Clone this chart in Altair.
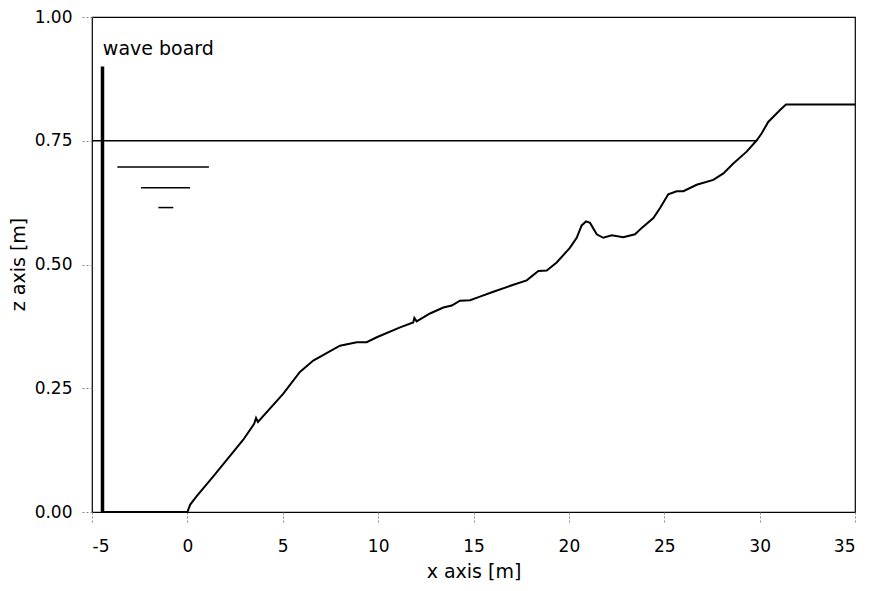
import altair as alt
import pandas as pd

# Bed profile (x in m, z in m)
profile_x = [-4.45, 0.0, 0.15, 0.49, 1.36, 2.93, 3.5, 3.6, 3.7, 5.03, 5.90, 6.60, 8.00, 8.88, 9.40, 9.93,
             11.15, 11.84, 11.90, 12.02, 12.72, 13.42, 13.86, 14.29, 14.82, 15.34, 16.04, 17.09,
             17.79, 18.40, 18.84, 19.36, 20.06, 20.41, 20.67, 20.90, 21.11, 21.46, 21.80, 22.25,
             22.85, 23.47, 23.82, 24.43, 24.78, 25.21, 25.65, 26.00, 26.70, 27.57, 28.10, 28.62,
             29.32, 29.85, 30.11, 30.45, 31.07, 31.38, 35.0]
profile_z = [0.0, 0.0, 0.015, 0.032, 0.072, 0.146, 0.178, 0.19, 0.182, 0.239, 0.283, 0.306, 0.336, 0.343,
             0.343, 0.353, 0.373, 0.383, 0.392, 0.385, 0.401, 0.413, 0.417, 0.427, 0.428, 0.435,
             0.445, 0.459, 0.468, 0.487, 0.488, 0.504, 0.534, 0.554, 0.579, 0.587, 0.584, 0.561,
             0.554, 0.559, 0.555, 0.561, 0.574, 0.594, 0.614, 0.642, 0.648, 0.648, 0.661, 0.671,
             0.684, 0.704, 0.728, 0.751, 0.765, 0.788, 0.812, 0.823, 0.823]

# Still water level
water_x = [-5.0, 29.85]
water_z = [0.75, 0.75]

# Wave board
board_x = -4.45
board_top = 0.90

# Water level symbol (three dashes)
sym_x1 = [-3.67, -2.43, -1.52]
sym_x2 = [1.13, 0.14, -0.74]
sym_z = [0.697, 0.655, 0.615]

x_ticks = [-5, 0, 5, 10, 15, 20, 25, 30, 35]
y_ticks = [0.0, 0.25, 0.5, 0.75, 1.0]

FONT = "DejaVu Sans"

xs = alt.Scale(domain=[-5, 35], nice=False, zero=False)
ys = alt.Scale(domain=[0, 1], nice=False, zero=False)

prof_df = pd.DataFrame({"x": profile_x, "z": profile_z, "i": range(len(profile_x))})
water_df = pd.DataFrame({"x": water_x, "z": water_z, "i": range(len(water_x))})
board_df = pd.DataFrame({"x": [board_x], "z0": [0.0], "z1": [board_top]})
sym_df = pd.DataFrame({"x1": sym_x1, "x2": sym_x2, "z": sym_z})
text_df = pd.DataFrame({"x": [board_x + 0.02], "z": [0.923], "t": ["wave board"]})

x_axis = alt.Axis(values=x_ticks, labelExpr="'' + datum.value", title="x axis [m]", grid=False,
                  domain=False, tickColor="#888", tickDash=[2, 2], tickSize=10, labelFontSize=17,
                  labelFont=FONT, labelColor="black", labelPadding=16, titleFont=FONT,
                  titleFontSize=19, titleFontWeight="normal", titleColor="black", titleY=65,
                  titleBaseline="alphabetic")
y_axis = alt.Axis(values=y_ticks, format=".2f", title="z axis [m]", grid=False, domain=False,
                  tickColor="#888", tickDash=[2, 2], tickSize=11, labelFontSize=17,
                  labelFont=FONT, labelColor="black", labelPadding=9, titleFont=FONT,
                  titleFontSize=19, titleFontWeight="normal", titleColor="black", titleX=-74,
                  titleY=247, titleAngle=-90, titleBaseline="middle", titleAlign="center")

profile = alt.Chart(prof_df).mark_line(color="black", strokeWidth=2).encode(
    x=alt.X("x:Q", scale=xs, axis=x_axis),
    y=alt.Y("z:Q", scale=ys, axis=y_axis),
    order="i:Q",
)

water = alt.Chart(water_df).mark_line(color="black", strokeWidth=1.5).encode(
    x=alt.X("x:Q", scale=xs), y=alt.Y("z:Q", scale=ys), order="i:Q"
)

board = alt.Chart(board_df).mark_rule(color="black", strokeWidth=3.5).encode(
    x=alt.X("x:Q", scale=xs), y=alt.Y("z0:Q", scale=ys), y2="z1:Q"
)

sym = alt.Chart(sym_df).mark_rule(color="black", strokeWidth=1.5).encode(
    x=alt.X("x1:Q", scale=xs), x2="x2:Q", y=alt.Y("z:Q", scale=ys)
)

label = alt.Chart(text_df).mark_text(align="left", baseline="alphabetic", fontSize=19,
                                      font=FONT, color="black").encode(
    x=alt.X("x:Q", scale=xs), y=alt.Y("z:Q", scale=ys), text="t:N"
)

chart = alt.layer(profile, water, board, sym, label).properties(
    width=763, height=495,
    autosize=alt.AutoSizeParams(type="none"),
    padding={"left": 84, "top": 9, "right": 9, "bottom": 70},
    background="white",
).configure_view(stroke="black", strokeWidth=1.2)

chart.save("out.html", embed_options={"renderer": "svg", "actions": False})
